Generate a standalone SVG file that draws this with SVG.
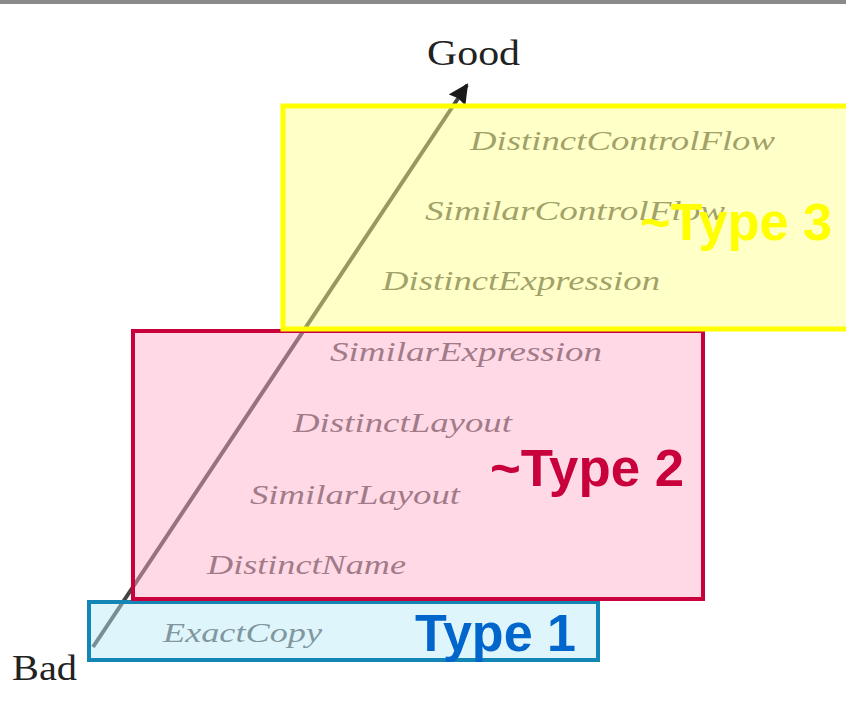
<svg xmlns="http://www.w3.org/2000/svg" width="846" height="715" viewBox="0 0 846 715">
  <defs>
    <marker id="arrow" viewBox="0 0 10 10" refX="9" refY="5" markerWidth="5" markerHeight="5" orient="auto" markerUnits="strokeWidth">
      <path d="M0,0 L10,5 L0,10 L1,5 Z" fill="#1a1a1a"/>
    </marker>
  </defs>
  <style>
    .lvl { font-family: "Liberation Serif", "Times New Roman", serif; font-style: italic; font-size: 28px; fill: #555; }
    .end { font-family: "Liberation Serif", "Times New Roman", serif; font-size: 35px; fill: #222; }
    .type { font-family: "Liberation Sans", Arial, sans-serif; font-weight: bold; font-size: 51px; }
    .box { fill-opacity: 0.45; }
  </style>
  <rect width="846" height="715" fill="#ffffff"/>
  <rect x="0" y="0" width="846" height="4" fill="#8a8a8a"/>

  <g id="connectors">
    <line x1="93" y1="647" x2="467" y2="85" stroke="#444" stroke-width="4" marker-end="url(#arrow)"/>
  </g>

  <g id="levels">
    <text class="lvl" x="470" y="150" textLength="305" lengthAdjust="spacingAndGlyphs">DistinctControlFlow</text>
    <text class="lvl" x="425" y="220" textLength="300" lengthAdjust="spacingAndGlyphs">SimilarControlFlow</text>
    <text class="lvl" x="382" y="290" textLength="278" lengthAdjust="spacingAndGlyphs">DistinctExpression</text>
    <text class="lvl" x="330" y="361" textLength="272" lengthAdjust="spacingAndGlyphs">SimilarExpression</text>
    <text class="lvl" x="293" y="432" textLength="219" lengthAdjust="spacingAndGlyphs">DistinctLayout</text>
    <text class="lvl" x="250" y="504" textLength="210" lengthAdjust="spacingAndGlyphs">SimilarLayout</text>
    <text class="lvl" x="207" y="574" textLength="199" lengthAdjust="spacingAndGlyphs">DistinctName</text>
    <text class="lvl" x="163" y="642" textLength="159" lengthAdjust="spacingAndGlyphs">ExactCopy</text>
  </g>

  <g id="type1">
    <rect class="box" x="89" y="602" width="509" height="58" fill="#b8e9f9"/>
    <rect x="89" y="602" width="509" height="58" fill="none" stroke="#1386b6" stroke-width="4"/>
    <text class="type" x="415" y="651" fill="#0066cc" textLength="161" lengthAdjust="spacingAndGlyphs">Type 1</text>
  </g>

  <g id="type2">
    <rect class="box" x="133" y="331" width="570" height="268" fill="#ffabc8"/>
    <rect x="133" y="331" width="570" height="268" fill="none" stroke="#c8003c" stroke-width="4"/>
    <text class="type" x="490" y="486" fill="#c8003c" textLength="194" lengthAdjust="spacingAndGlyphs">~Type 2</text>
  </g>

  <g id="type3">
    <rect class="box" x="283" y="106" width="580" height="223" fill="#ffff85"/>
    <rect x="283" y="106" width="580" height="223" fill="none" stroke="#ffff00" stroke-width="5"/>
    <text class="type" x="640" y="240" fill="#ffff00" textLength="192" lengthAdjust="spacingAndGlyphs">~Type 3</text>
  </g>

  <g id="good">
    <text class="end" x="427" y="65" textLength="93" lengthAdjust="spacingAndGlyphs">Good</text>
  </g>
  <g id="bad">
    <text class="end" x="12" y="680" textLength="65" lengthAdjust="spacingAndGlyphs">Bad</text>
  </g>
</svg>
